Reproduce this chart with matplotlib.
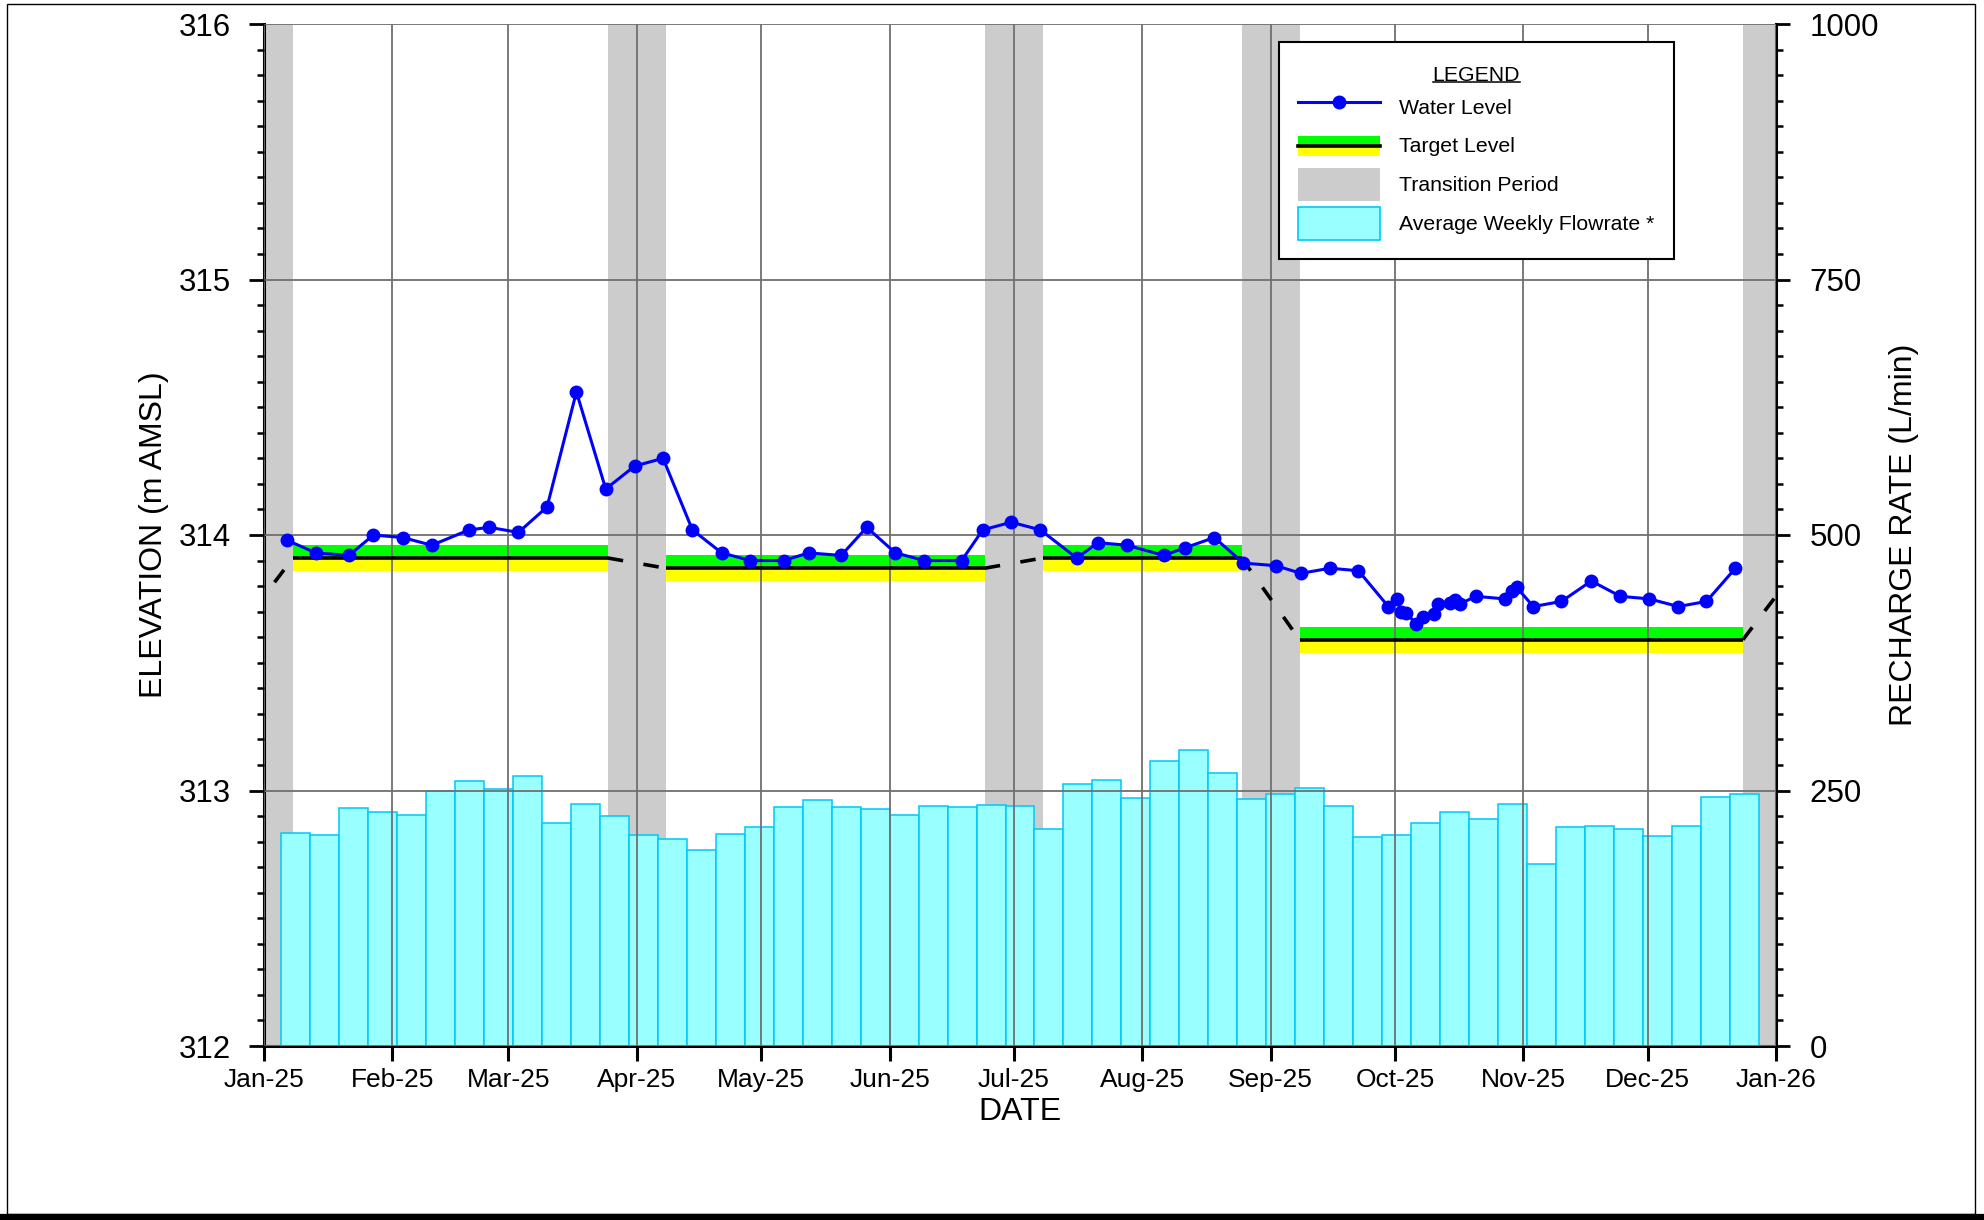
import matplotlib
matplotlib.use("Agg")
import matplotlib.pyplot as plt
import matplotlib.dates as mdates
import numpy as np
import pandas as pd
from matplotlib.patches import Rectangle, Patch
from matplotlib.lines import Line2D
from matplotlib.legend_handler import HandlerBase
from matplotlib.ticker import MultipleLocator

plt.rcParams['font.family'] = ['Liberation Sans', 'DejaVu Sans']

# ---------------- data ----------------
wl_dates = [
    '2025-01-06 12:00', '2025-01-13 12:00', '2025-01-21 12:00', '2025-01-27 10:00',
    '2025-02-03 12:00', '2025-02-10 12:00', '2025-02-19 12:00', '2025-02-24 10:00',
    '2025-03-03 10:00', '2025-03-10 08:00', '2025-03-17 10:00', '2025-03-24 12:00',
    '2025-03-31 12:00', '2025-04-07 08:00', '2025-04-14 10:00', '2025-04-21 12:00',
    '2025-04-28 10:00', '2025-05-06 12:00', '2025-05-12 12:00', '2025-05-20 08:00',
    '2025-05-26 12:00', '2025-06-02 10:00', '2025-06-09 10:00', '2025-06-18 10:00',
    '2025-06-23 12:00', '2025-06-30 10:00', '2025-07-07 10:00', '2025-07-16 05:00',
    '2025-07-21 08:00', '2025-07-28 08:00', '2025-08-06 05:00', '2025-08-11 08:00',
    '2025-08-18 10:00', '2025-08-25 10:00', '2025-09-02 05:00', '2025-09-08 08:00',
    '2025-09-15 08:00', '2025-09-22 05:00', '2025-09-29 10:00', '2025-10-01 10:00',
    '2025-10-02 14:00', '2025-10-03 19:00', '2025-10-06 05:00', '2025-10-07 17:00',
    '2025-10-10 10:00', '2025-10-11 12:00', '2025-10-14 08:00', '2025-10-15 12:00',
    '2025-10-16 17:00', '2025-10-20 12:00', '2025-10-27 12:00', '2025-10-29 05:00',
    '2025-10-30 10:00', '2025-11-03 10:00', '2025-11-10 05:00', '2025-11-17 10:00',
    '2025-11-24 10:00', '2025-12-01 10:00', '2025-12-08 10:00', '2025-12-15 05:00',
    '2025-12-22 05:00']
wl_values = [
    313.98, 313.93, 313.92, 314.00,
    313.99, 313.96, 314.02, 314.03,
    314.01, 314.11, 314.56, 314.18,
    314.27, 314.30, 314.02, 313.93,
    313.90, 313.90, 313.93, 313.92,
    314.03, 313.93, 313.90, 313.90,
    314.02, 314.05, 314.02, 313.91,
    313.97, 313.96, 313.92, 313.95,
    313.99, 313.89, 313.88, 313.85,
    313.87, 313.86, 313.72, 313.75,
    313.70, 313.695, 313.65, 313.68,
    313.69, 313.73, 313.735, 313.745,
    313.73, 313.76, 313.75, 313.78,
    313.795, 313.72, 313.74, 313.82,
    313.76, 313.75, 313.72, 313.74,
    313.87]

flow_start = '2025-01-05'   # first weekly bar starts here
flow_values = [
    208.7, 206.8, 233.2, 229.3, 225.7, 249.8, 259.6, 251.8, 263.9, 217.9,
    236.5, 224.7, 206.8, 202.2, 191.5, 207.3, 214.0, 234.3, 240.8, 233.7,
    231.7, 226.5, 234.6, 234.3, 235.6, 234.6, 212.1, 256.5, 260.5, 242.5,
    279.1, 289.9, 267.0, 241.8, 246.7, 252.3, 235.0, 204.9, 206.5, 218.6,
    229.1, 222.2, 236.9, 178.4, 214.1, 215.0, 212.4, 205.2, 215.4, 243.5,
    246.4]

target_start = ['2025-01-08', '2025-04-08', '2025-07-08', '2025-09-08']
target_end = ['2025-03-25', '2025-06-24', '2025-08-25', '2025-12-24']
target_level = [313.91, 313.87, 313.91, 313.59]
target_band = 0.05
prev_target_end, prev_target_level = '2024-12-24', 313.59
next_target_start, next_target_level = '2026-01-08', 313.91

x_min, x_max = '2025-01-01', '2026-01-01'

# ---------------- helpers ----------------
def dn(s):
    return mdates.date2num(pd.Timestamp(s))

W, H = 1984, 1220
fig = plt.figure(figsize=(W / 100, H / 100), dpi=100)
ax1 = fig.add_axes([264 / W, 1 - 1046 / H, 1512 / W, 1022 / H])
ax2 = ax1.twinx()
ax1.set_zorder(ax2.get_zorder() + 1)
ax1.patch.set_visible(False)

# transition periods (gray)
trans_starts = [prev_target_end] + target_end
trans_ends = target_start + [next_target_start]
for s, e in zip(trans_starts, trans_ends):
    ax2.axvspan(dn(s), dn(e), color='#CCCCCC', lw=0, zorder=0)

# weekly flow bars
bar_x = mdates.date2num(pd.date_range(flow_start, periods=len(flow_values), freq='7D'))
ax2.bar(bar_x, flow_values, width=7, align='edge', color='#99FFFF',
        edgecolor='#00C8F8', linewidth=1.1, zorder=3)

# target levels
for s, e, lv in zip(target_start, target_end, target_level):
    xs = [dn(s), dn(e)]
    ax1.fill_between(xs, [lv, lv], [lv + target_band] * 2, color='#00FF00', lw=0, zorder=1)
    ax1.fill_between(xs, [lv - target_band] * 2, [lv, lv], color='#FFFF00', lw=0, zorder=1)
    ax1.plot(xs, [lv, lv], color='k', lw=2.6, solid_capstyle='butt', zorder=3)

lv_before = [prev_target_level] + target_level
lv_after = target_level + [next_target_level]
for s, e, a, b in zip(trans_starts, trans_ends, lv_before, lv_after):
    ax1.plot([dn(s), dn(e)], [a, b], color='k', lw=2.6,
             linestyle=(0, (4.3, 5.7)), dash_capstyle='butt', zorder=3)

# water level
ax1.plot(mdates.date2num(pd.to_datetime(wl_dates)), wl_values, '-o', color='#0000FF',
         lw=2.2, ms=9, zorder=5)

# ---------------- axes ----------------
ax1.set_xlim(dn(x_min), dn(x_max))
ax1.set_ylim(312, 316)
ax2.set_ylim(0, 1000)

ax1.xaxis.set_major_locator(mdates.MonthLocator())
ax1.xaxis.set_major_formatter(mdates.DateFormatter('%b-%y'))
ax1.yaxis.set_major_locator(MultipleLocator(1))
ax1.yaxis.set_minor_locator(MultipleLocator(0.1))
ax1.yaxis.set_major_formatter(plt.FuncFormatter(lambda v, p: f'{v:.0f}'))
ax2.yaxis.set_major_locator(MultipleLocator(250))
ax2.yaxis.set_minor_locator(MultipleLocator(25))

ax1.grid(True, which='major', color='#707070', lw=1.3)
ax1.set_axisbelow(False)

for sp in ['top', 'right', 'bottom']:
    ax1.spines[sp].set_visible(False)
ax1.spines['left'].set_linewidth(2.2)
for sp in ['top', 'left']:
    ax2.spines[sp].set_visible(False)
ax2.spines['right'].set_linewidth(2.2)
ax2.spines['bottom'].set_linewidth(2.2)

ax1.tick_params(axis='y', which='major', length=11, width=2, labelsize=22.5, pad=13)
ax1.tick_params(axis='y', which='minor', length=5, width=1.8)
ax1.tick_params(axis='x', which='major', length=11, width=2.2, labelsize=19, pad=5)
ax2.tick_params(axis='y', which='major', length=10, width=2, labelsize=22.5, pad=14)
ax2.tick_params(axis='y', which='minor', length=5, width=1.8)

ax1.set_ylabel('ELEVATION (m AMSL)', fontsize=23)
ax1.yaxis.set_label_coords((169 - 264) / 1512, 0.5)
ax2.set_ylabel('RECHARGE RATE (L/min)', fontsize=23, rotation=90)
ax2.yaxis.set_label_coords((1889 - 264) / 1512, 0.5)
ax1.set_xlabel('DATE', fontsize=23)
ax1.xaxis.set_label_coords(0.5, (1046 - 1097) / 1022)

# ---------------- legend ----------------
class TargetKey:
    pass

class TargetHandler(HandlerBase):
    def create_artists(self, legend, orig_handle, xdescent, ydescent, width, height,
                       fontsize, trans):
        h = height * 0.6
        y0 = -ydescent + (height - h) / 2
        g = Rectangle((-xdescent, y0 + h / 2), width, h / 2, facecolor='#00FF00',
                      lw=0, transform=trans)
        yel = Rectangle((-xdescent, y0), width, h / 2, facecolor='#FFFF00',
                        lw=0, transform=trans)
        ln = Line2D([-xdescent, -xdescent + width], [y0 + h / 2] * 2, color='k',
                    lw=2.6, transform=trans)
        return [g, yel, ln]

handles = [Line2D([], [], color='#0000FF', marker='o', lw=2.2, ms=9),
           TargetKey(),
           Patch(facecolor='#CCCCCC', edgecolor='none'),
           Patch(facecolor='#99FFFF', edgecolor='#00C8F8', lw=1.2)]
labels = ['Water Level', 'Target Level', 'Transition Period', 'Average Weekly Flowrate *']
leg = ax1.legend(handles, labels, handler_map={TargetKey: TargetHandler()},
                 loc='upper left', bbox_to_anchor=(1279 / W, 1 - 42 / H),
                 bbox_transform=fig.transFigure, title='LEGEND', fontsize=15.3,
                 title_fontsize=15.3, frameon=True, fancybox=False, edgecolor='k',
                 framealpha=1, borderpad=0.9, labelspacing=0.28, handlelength=3.85,
                 handleheight=2.0, handletextpad=0.9, borderaxespad=0)
leg.get_frame().set_linewidth(1.5)
leg.set_zorder(10)
leg._legend_box.sep = 7.5
try:
    leg.get_title().set_position((0, -5))
except Exception:
    pass

# outer frame
fig.patches.append(Rectangle((7 / W, 1 - 1214 / H), (1975 - 7) / W, (1214 - 4) / H,
                             transform=fig.transFigure, fill=False, lw=1.0,
                             edgecolor='k'))
fig.lines.append(Line2D([0, 1], [1 - 1216.5 / H] * 2, transform=fig.transFigure,
                        color='k', lw=4.5))

# underline legend title
fig.canvas.draw()
r = fig.canvas.get_renderer()
bb = leg.get_title().get_window_extent(r)
yline = (bb.y0 + 3) / H
fig.lines.append(Line2D([bb.x0 / W, bb.x1 / W], [yline, yline], transform=fig.transFigure,
                        color='k', lw=1.1, zorder=20))

fig.savefig('out.png', dpi=100)
